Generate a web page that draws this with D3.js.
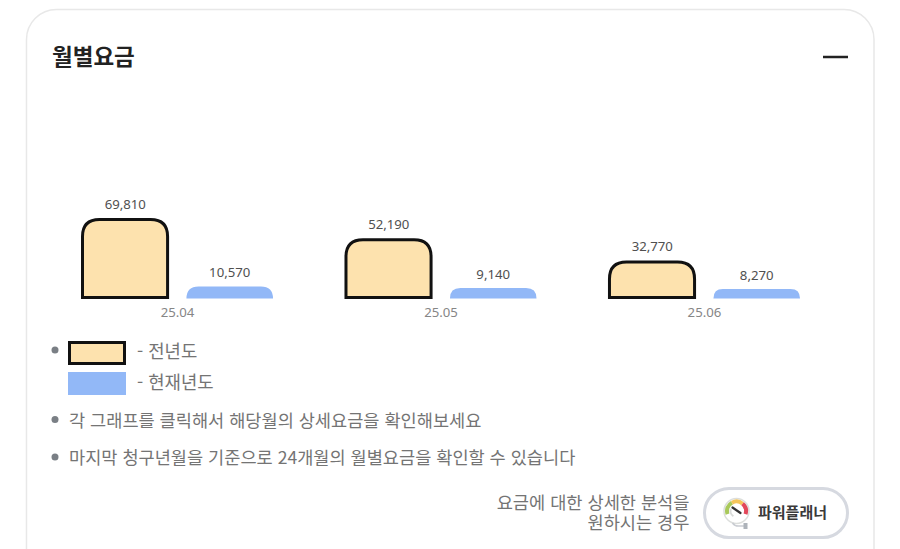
<!DOCTYPE html>
<html lang="ko">
<head>
<meta charset="utf-8">
<script src="https://cdn.jsdelivr.net/npm/d3@7/dist/d3.min.js"></script>
<style>
  html, body { margin: 0; padding: 0; background: #fff; overflow: hidden; }
  svg { display: block; }
  text { font-family: "Noto Sans", "Noto Sans CJK KR", sans-serif; }
  .kr { font-family: "Noto Sans CJK KR", sans-serif; }
</style>
</head>
<body>
<svg id="chart" width="900" height="549"></svg>
<script>
// data
const months = ['25.04', '25.05', '25.06'];
const prevYear = [69810, 52190, 32770];
const currYear = [10570, 9140, 8270];
const seriesKeys = ['prev', 'curr'];
const seriesValues = { prev: prevYear, curr: currYear };
const legendLabels = ['- 전년도', '- 현재년도'];
const notes = [
  '각 그래프를 클릭해서 해당월의 상세요금을 확인해보세요',
  '마지막 청구년월을 기준으로 24개월의 월별요금을 확인할 수 있습니다'
];
const prompt = ['요금에 대한 상세한 분석을', '원하시는 경우'];

const svg = d3.select('#chart');
const fillPrev = '#fde2ae', fillCurr = '#92b8f7', ink = '#111', grey = '#747474';

// card
svg.append('rect')
  .attr('x', 26.5).attr('y', 9.5)
  .attr('width', 847.5).attr('height', 600)
  .attr('rx', 30)
  .attr('fill', '#fff').attr('stroke', '#e8e8e8').attr('stroke-width', 1.5);

svg.append('text').attr('class', 'kr')
  .attr('x', 52).attr('y', 65)
  .attr('font-size', 22.5).attr('font-weight', 700).attr('fill', '#222')
  .text('월별요금');

svg.append('line')
  .attr('x1', 823).attr('x2', 848).attr('y1', 57).attr('y2', 57)
  .attr('stroke', '#222').attr('stroke-width', 2.5);

// scales
const x0 = d3.scaleBand().domain(months).range([82, 800]).paddingInner(0.275);
const x1 = d3.scaleBand().domain(seriesKeys).range([0, x0.bandwidth()]).paddingInner(0.171);
const y = d3.scaleLinear().domain([0, d3.max(prevYear)]).range([298.5, 218.5]);

// bar with rounded top corners only
const barPath = (x, top, w, bottom, r) => {
  const p = d3.path();
  p.moveTo(x, bottom);
  p.lineTo(x, top + r);
  p.quadraticCurveTo(x, top, x + r, top);
  p.lineTo(x + w - r, top);
  p.quadraticCurveTo(x + w, top, x + w, top + r);
  p.lineTo(x + w, bottom);
  p.closePath();
  return p.toString();
};

const groups = svg.selectAll('g.month')
  .data(months)
  .enter().append('g')
  .attr('class', 'month')
  .attr('transform', d => `translate(${x0(d)},0)`);

seriesKeys.forEach(key => {
  const inset = key === 'prev' ? 1 : 0;
  groups.append('path')
    .attr('d', (d, i) => {
      const top = y(seriesValues[key][i]) + inset;
      const bottom = y(0) - inset;
      return barPath(x1(key) + inset - (key === 'prev' ? 0.5 : 0), top, x1.bandwidth() - inset * 2 + (key === 'prev' ? 0.5 : 0), bottom, Math.min(17, bottom - top));
    })
    .attr('fill', key === 'prev' ? fillPrev : fillCurr)
    .attr('stroke', key === 'prev' ? ink : 'none')
    .attr('stroke-width', key === 'prev' ? 3 : 0);

  groups.append('text')
    .attr('x', x1(key) + x1.bandwidth() / 2)
    .attr('y', (d, i) => y(seriesValues[key][i]) - 9.5)
    .attr('text-anchor', 'middle')
    .attr('font-size', 13.2).attr('fill', '#505050')
    .text((d, i) => d3.format(',')(seriesValues[key][i]));
});

// month labels
groups.append('text')
  .attr('x', x0.bandwidth() / 2).attr('y', 317)
  .attr('text-anchor', 'middle')
  .attr('font-size', 13.2).attr('fill', '#868686')
  .text(d => d);

// legend
const bullet = cy => svg.append('circle')
  .attr('cx', 55).attr('cy', cy).attr('r', 3.5).attr('fill', '#7a7f85');

bullet(350);
svg.append('rect')
  .attr('x', 69.5).attr('y', 342.5).attr('width', 55).attr('height', 21)
  .attr('fill', fillPrev).attr('stroke', ink).attr('stroke-width', 3);
svg.append('rect')
  .attr('x', 68).attr('y', 372).attr('width', 58).attr('height', 23)
  .attr('fill', fillCurr);

svg.selectAll('text.legend')
  .data(legendLabels)
  .enter().append('text')
  .attr('class', 'legend kr')
  .attr('x', 137).attr('y', (d, i) => 358 + i * 30.5)
  .attr('font-size', 17.8).attr('fill', grey)
  .text(d => d);

// notes
notes.forEach((t, i) => {
  const cy = 419.5 + i * 37.5;
  bullet(cy);
  svg.append('text').attr('class', 'kr')
    .attr('x', 69).attr('y', cy + 7)
    .attr('font-size', 17.57).attr('fill', grey)
    .text(t);
});

// prompt next to the button
const promptText = svg.append('text').attr('class', 'kr')
  .attr('text-anchor', 'end')
  .attr('font-size', 17.6).attr('fill', grey);
prompt.forEach((t, i) => {
  promptText.append('tspan')
    .attr('x', 689.5).attr('y', 509 + i * 19.5)
    .text(t);
});

// button
svg.append('rect')
  .attr('x', 704.5).attr('y', 488.5).attr('width', 143).attr('height', 49)
  .attr('rx', 24.5)
  .attr('fill', '#fff').attr('stroke', '#d6d9e0').attr('stroke-width', 3);

svg.append('text').attr('class', 'kr')
  .attr('x', 758).attr('y', 518)
  .attr('font-size', 15).attr('font-weight', 700).attr('fill', '#3a3a3a')
  .text('파워플래너');

// gauge icon
const icon = svg.append('g').attr('transform', 'translate(736.5,511)');
const gaugeArc = d3.arc().innerRadius(7.5).outerRadius(11.5);
icon.append('circle').attr('r', 12.5).attr('fill', '#fff').attr('stroke', '#dcdedc').attr('stroke-width', 1.5);
[['#a9c95b', -1.9, -0.5], ['#f4c55a', -0.5, 0.7], ['#e2475a', 0.7, 1.9]].forEach(s => {
  icon.append('path')
    .attr('d', gaugeArc({ startAngle: s[1], endAngle: s[2] }))
    .attr('fill', s[0]);
});
icon.append('path')
  .attr('d', d3.arc().innerRadius(5).outerRadius(7)({ startAngle: -2.6, endAngle: -1.2 }))
  .attr('fill', '#d9dbd9');
icon.append('line')
  .attr('x1', 4).attr('y1', 2).attr('x2', -4).attr('y2', -3.5)
  .attr('stroke', '#333').attr('stroke-width', 2.2).attr('stroke-linecap', 'round');
icon.append('path')
  .attr('d', 'M-4,12 Q-2,15 2,15 L8,15')
  .attr('fill', 'none').attr('stroke', '#c9ccd2').attr('stroke-width', 1.5);
icon.append('rect')
  .attr('x', 7).attr('y', 12).attr('width', 4).attr('height', 6).attr('fill', '#aeb3ba');
</script>
</body>
</html>
